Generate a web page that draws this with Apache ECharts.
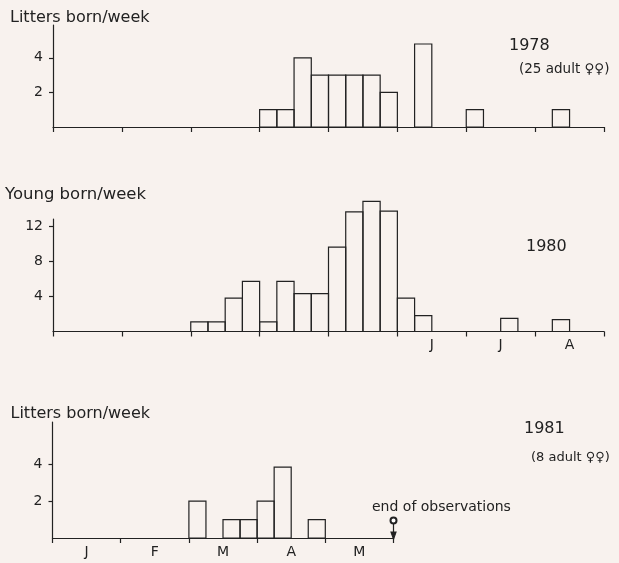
<!DOCTYPE html>
<html>
<head>
<meta charset="utf-8">
<script src="https://cdn.jsdelivr.net/npm/echarts@6/dist/echarts.min.js"></script>
<style>
    html, body { margin: 0; padding: 0; background: #f8f2ee; }
    #main { width: 619px; height: 563px; }
</style>
</head>
<body>
<div id="main"></div>
<script>
// one bin per week, 4 bins to a month, counting from 1 January
const monthLetters = ['J', 'F', 'M', 'A', 'M', 'J', 'J', 'A']
const monthTicks = [0, 4, 8, 12, 16, 20, 24, 28, 32]
const litters1978 = [0, 0, 0, 0, 0, 0, 0, 0, 0, 0, 0, 0, 1, 1, 4, 3, 3, 3, 3, 2, 0, 4.8, 0, 0, 1, 0, 0, 0, 0, 1, 0, 0]
const young1980 = [0, 0, 0, 0, 0, 0, 0, 0, 1.1, 1.1, 3.8, 5.7, 1.1, 5.7, 4.3, 4.3, 9.6, 13.6, 14.8, 13.7, 3.8, 1.8, 0, 0, 0, 0, 1.5, 0, 0, 1.35, 0, 0]
const litters1981 = [0, 0, 0, 0, 0, 0, 0, 0, 2, 0, 1, 1, 2, 3.85, 0, 1, 0, 0, 0, 0]
const endOfObservations = 20

const ink = '#222'
const font = 'DejaVu Sans'

let chartDom = document.getElementById('main')
let myChart = echarts.init(chartDom, null, { renderer: 'canvas' })

// open rectangle for each weekly bin
const renderBin = (params, api) => {
    const v = api.value(1)
    if (!v) return null
    const x0 = api.value(0)
    const p0 = api.coord([x0, 0])
    const p1 = api.coord([x0 + 1, v])
    return {
        type: 'rect',
        shape: { x: p0[0], y: p1[1], width: p1[0] - p0[0], height: p0[1] - p1[1] },
        style: { fill: 'none', stroke: ink, lineWidth: 1.2 }
    }
}

const xAxis = (idx, max, labels) => ({
    type: 'value',
    gridIndex: idx,
    min: 0,
    max: max,
    splitLine: { show: false },
    axisLine: { show: true, onZero: false, lineStyle: { color: ink, width: 1.2 } },
    axisTick: {
        show: true,
        length: 5,
        customValues: monthTicks.filter(t => t <= max),
        lineStyle: { color: ink, width: 1.2 }
    },
    axisLabel: {
        show: labels.length > 0,
        customValues: labels,
        margin: 7,
        color: ink,
        fontFamily: font,
        fontSize: 14,
        formatter: v => monthLetters[Math.floor(v / 4)]
    }
})

const yAxis = (idx, max, ticks) => ({
    type: 'value',
    gridIndex: idx,
    min: 0,
    max: max,
    splitLine: { show: false },
    axisLine: { show: true, lineStyle: { color: ink, width: 1.2 } },
    axisTick: { show: true, length: 4, customValues: ticks, lineStyle: { color: ink, width: 1.2 } },
    axisLabel: { customValues: ticks, margin: 10, color: ink, fontFamily: font, fontSize: 14 }
})

const text = (str, x, y, size) => ({
    type: 'text',
    x: x,
    y: y,
    style: { text: str, fill: ink, font: size + 'px "' + font + '"', verticalAlign: 'middle' }
})

const binData = arr => arr.map((v, i) => [i, v])

let option = {
    backgroundColor: '#f8f2ee',
    animation: false,
    grid: [
        { left: 53, top: 25, width: 551, height: 102, outerBoundsMode: 'none' },
        { left: 53, top: 219, width: 551, height: 112.5, outerBoundsMode: 'none' },
        { left: 52.5, top: 422, width: 341, height: 116, outerBoundsMode: 'none' }
    ],
    xAxis: [
        xAxis(0, 32, []),
        xAxis(1, 32, [22, 26, 30]),
        xAxis(2, 20, [2, 6, 10, 14, 18])
    ],
    yAxis: [
        yAxis(0, 5.9, [2, 4]),
        yAxis(1, 12.8, [4, 8, 12]),
        yAxis(2, 6.3, [2, 4])
    ],
    graphic: [
        text('Litters born/week', 10, 17.5, 16),
        text('1978', 509, 46, 16),
        text('(25 adult \u2640\u2640)', 519, 69, 13.5),
        text('Young born/week', 5, 195, 16.5),
        text('1980', 526, 247, 16),
        text('Litters born/week', 10.5, 414, 16),
        text('1981', 524, 429, 16),
        text('(8 adult \u2640\u2640)', 531, 457.5, 13),
        text('end of observations', 372, 507, 14)
    ],
    series: [
        {
            name: '1978',
            type: 'custom',
            xAxisIndex: 0,
            yAxisIndex: 0,
            clip: false,
            renderItem: renderBin,
            data: binData(litters1978)
        },
        {
            name: '1980',
            type: 'custom',
            xAxisIndex: 1,
            yAxisIndex: 1,
            clip: false,
            renderItem: renderBin,
            data: binData(young1980)
        },
        {
            name: '1981',
            type: 'custom',
            xAxisIndex: 2,
            yAxisIndex: 2,
            clip: false,
            renderItem: renderBin,
            data: binData(litters1981)
        },
        {
            // female sign with arrow marking the end of observations
            name: 'end',
            type: 'line',
            xAxisIndex: 2,
            yAxisIndex: 2,
            silent: true,
            lineStyle: { color: ink, width: 1.2 },
            itemStyle: { color: ink, borderColor: ink, borderWidth: 1.2 },
            data: [
                { value: [endOfObservations, 0.95], symbol: 'emptyCircle', symbolSize: 6 },
                { value: [endOfObservations, 0.12], symbol: 'triangle', symbolRotate: 180, symbolSize: [5, 7] }
            ]
        }
    ]
}

option && myChart.setOption(option)
</script>
</body>
</html>
